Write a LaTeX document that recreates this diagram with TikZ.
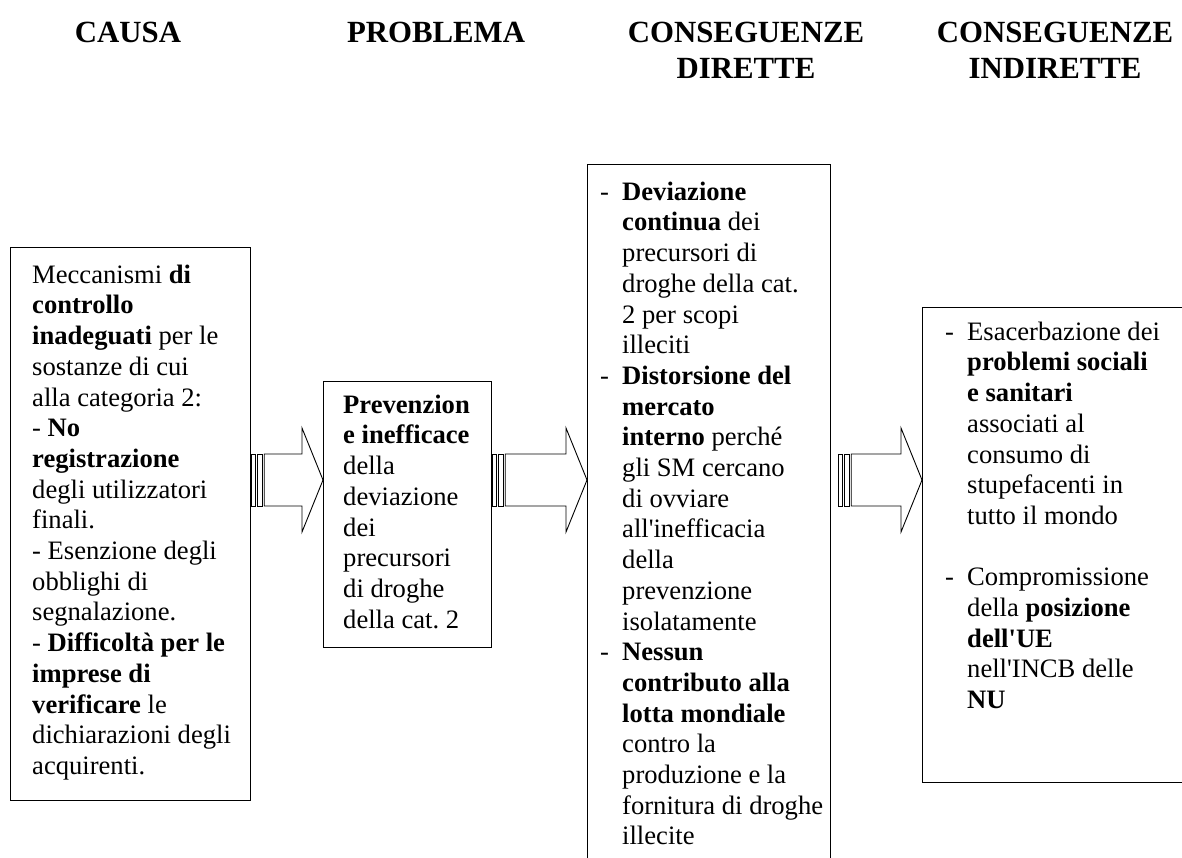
\documentclass[tikz,border=0pt]{standalone}
\usepackage{fontspec}
\setmainfont{Liberation Serif}
\usetikzlibrary{positioning, calc}
\frenchspacing

\newcommand{\bodyfont}{\fontsize{26.6}{30.7}\selectfont}
\newcommand{\headfont}{\fontsize{30.8}{36}\selectfont\bfseries}
\newcommand{\dash}{\makebox[22pt][l]{-}}
\newcommand{\ind}{\hspace*{22pt}}
\newcommand{\apo}{\textquotesingle}

% freccia a strisce: coda, punta
\newcommand{\fatarrow}[2]{%
  \draw[freccia] ($(#1)+(0,-26)$) rectangle ($(#1)+(4,26)$);
  \draw[freccia] ($(#1)+(6,-26)$) rectangle ($(#1)+(11,26)$);
  \draw[freccia] ($(#1)+(13,-26)$) -- ($(#2)+(-21,-26)$) -- ($(#2)+(-21,-52)$)
    -- (#2) -- ($(#2)+(-21,52)$) -- ($(#2)+(-21,26)$) -- ($(#1)+(13,26)$) -- cycle;
}

\begin{document}
\begin{tikzpicture}[x=1pt, y=-1pt,
    cella/.style={draw, line width=1.2pt, rectangle, inner sep=0pt, anchor=north west},
    testo/.style={inner sep=0pt, anchor=north west, align=left, font=\bodyfont},
    titolo/.style={inner sep=0pt, anchor=north, align=center, font=\headfont},
    freccia/.style={draw, line width=0.9pt, line join=miter}
]
\useasboundingbox (0,0) rectangle (1182,857);

% titoli
\node[titolo] (hcausa) at (128,17) {\strut CAUSA};
\node[titolo] (hproblema) at (436,17) {\strut PROBLEMA};
\node[titolo] (hdirette) at (746,17) {\strut CONSEGUENZE\\DIRETTE};
\node[titolo] (hindirette) at (1055,17) {\strut CONSEGUENZE\\INDIRETTE};

% riquadri
\node[cella, minimum width=240, minimum height=553] (causa) at (10,247) {};
\node[cella, minimum width=168, minimum height=266] (problema) at (323,381) {};
\node[cella, minimum width=243, minimum height=760] (diretto) at (587,164) {};
\node[cella, minimum width=300, minimum height=475] (indiretto) at (922,307) {};

\node[testo] (causatxt) at (32,261.5) {\strut Meccanismi \textbf{di}\\
\textbf{controllo}\\
\textbf{inadeguati} per le\\
sostanze di cui\\
alla categoria 2:\\
- \textbf{No}\\
\textbf{registrazione}\\
degli utilizzatori\\
finali.\\
- Esenzione degli\\
obblighi di\\
segnalazione.\\
- \textbf{Difficoltà per le}\\
\textbf{imprese di}\\
\textbf{verificare} le\\
dichiarazioni degli\\
acquirenti.};

\node[testo] (problematxt) at (343,391.5) {\strut\textbf{Prevenzion}\\
\textbf{e inefficace}\\
della\\
deviazione\\
dei\\
precursori\\
di droghe\\
della cat. 2};

\node[testo] (direttotxt) at (600,178.5) {\strut\dash\textbf{Deviazione}\\
\ind\textbf{continua} dei\\
\ind precursori di\\
\ind droghe della cat.\\
\ind 2 per scopi\\
\ind illeciti\\
\dash\textbf{Distorsione del}\\
\ind\textbf{mercato}\\
\ind\textbf{interno} perché\\
\ind gli SM cercano\\
\ind di ovviare\\
\ind all\apo inefficacia\\
\ind della\\
\ind prevenzione\\
\ind isolatamente\\
\dash\textbf{Nessun}\\
\ind\textbf{contributo alla}\\
\ind\textbf{lotta mondiale}\\
\ind contro la\\
\ind produzione e la\\
\ind fornitura di droghe\\
\ind illecite};

\node[testo] (indirettotxt) at (945,318.5) {\strut\dash Esacerbazione dei\\
\ind\textbf{problemi sociali}\\
\ind\textbf{e sanitari}\\
\ind associati al\\
\ind consumo di\\
\ind stupefacenti in\\
\ind tutto il mondo\\[30.7pt]
\dash Compromissione\\
\ind della \textbf{posizione}\\
\ind\textbf{dell\apo UE}\\
\ind nell\apo INCB delle\\
\ind\textbf{NU}};

% frecce
\coordinate (asse) at (0,480);
\coordinate (c1) at (causa.east |- asse);
\coordinate (p1) at (problema.west |- asse);
\coordinate (c2) at (problema.east |- asse);
\coordinate (p2) at (diretto.west |- asse);
\coordinate (c3) at ($(diretto.east |- asse)+(7,0)$);
\coordinate (p3) at (indiretto.west |- asse);
\fatarrow{c1}{p1}
\fatarrow{c2}{p2}
\fatarrow{c3}{p3}

\end{tikzpicture}
\end{document}
